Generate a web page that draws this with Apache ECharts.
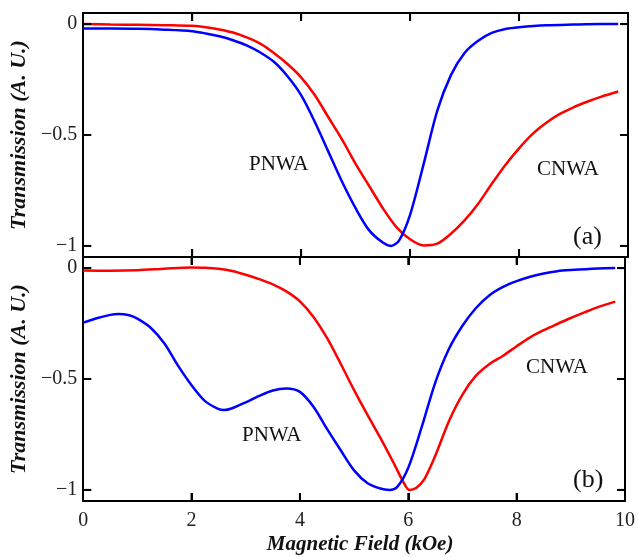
<!DOCTYPE html>
<html>
<head>
<meta charset="utf-8">
<script src="https://cdn.jsdelivr.net/npm/echarts@6/dist/echarts.min.js"></script>
<style>
  html, body { margin: 0; padding: 0; background: #fff; }
  #chart { width: 638px; height: 557px; }
</style>
</head>
<body>
<div id="chart"></div>
<script>
// panel (a)
const pnwaA = [[0,-0.02],[0.5,-0.02],[1,-0.021],[1.5,-0.025],[2,-0.032],[2.25,-0.042],[2.5,-0.055],[2.75,-0.073],[3,-0.096],[3.25,-0.128],[3.5,-0.17],[3.75,-0.235],[4,-0.32],[4.25,-0.44],[4.5,-0.575],[4.75,-0.71],[5,-0.83],[5.25,-0.93],[5.5,-0.985],[5.65,-1.0],[5.8,-0.975],[6,-0.86],[6.25,-0.63],[6.5,-0.39],[6.75,-0.23],[7,-0.13],[7.25,-0.075],[7.5,-0.04],[7.75,-0.022],[8,-0.014],[8.5,-0.005],[9,-0.002],[9.5,0],[9.82,0]];
const cnwaA = [[0,0],[0.5,-0.002],[1,-0.003],[1.5,-0.005],[2,-0.008],[2.25,-0.014],[2.5,-0.024],[2.75,-0.038],[3,-0.06],[3.25,-0.088],[3.5,-0.13],[3.75,-0.18],[4,-0.24],[4.25,-0.32],[4.5,-0.42],[4.75,-0.52],[5,-0.63],[5.25,-0.73],[5.5,-0.83],[5.75,-0.915],[6,-0.97],[6.25,-0.998],[6.5,-0.99],[6.75,-0.945],[7,-0.885],[7.25,-0.81],[7.5,-0.72],[7.75,-0.635],[8,-0.56],[8.25,-0.495],[8.5,-0.445],[8.75,-0.405],[9,-0.375],[9.25,-0.35],[9.5,-0.328],[9.82,-0.304]];
// panel (b)
const pnwaB = [[0,-0.246],[0.25,-0.226],[0.5,-0.211],[0.65,-0.207],[0.85,-0.213],[1,-0.228],[1.25,-0.27],[1.5,-0.34],[1.75,-0.44],[2,-0.528],[2.25,-0.6],[2.5,-0.636],[2.6,-0.64],[2.75,-0.632],[3,-0.605],[3.25,-0.576],[3.5,-0.552],[3.75,-0.543],[4,-0.558],[4.25,-0.625],[4.5,-0.725],[4.75,-0.82],[5,-0.912],[5.25,-0.97],[5.5,-0.995],[5.65,-1.0],[5.8,-0.985],[6,-0.9],[6.25,-0.715],[6.5,-0.515],[6.75,-0.365],[7,-0.26],[7.25,-0.18],[7.5,-0.122],[7.75,-0.085],[8,-0.059],[8.25,-0.039],[8.5,-0.024],[8.75,-0.014],[9,-0.009],[9.5,-0.002],[9.82,0]];
const cnwaB = [[0,-0.011],[0.5,-0.012],[1,-0.01],[1.5,-0.003],[2,0.003],[2.25,0.002],[2.5,-0.003],[2.75,-0.013],[3,-0.03],[3.25,-0.05],[3.5,-0.073],[3.75,-0.105],[4,-0.15],[4.25,-0.22],[4.5,-0.315],[4.75,-0.43],[5,-0.55],[5.25,-0.663],[5.5,-0.772],[5.75,-0.888],[5.9,-0.96],[6.02,-1.0],[6.15,-0.99],[6.3,-0.95],[6.5,-0.845],[6.75,-0.69],[7,-0.57],[7.25,-0.485],[7.5,-0.432],[7.75,-0.395],[8,-0.352],[8.25,-0.312],[8.5,-0.28],[8.75,-0.252],[9,-0.225],[9.25,-0.2],[9.5,-0.176],[9.82,-0.151]];

const xTicks = [2, 4, 6, 8];
const yTicks = [-1, -0.5, 0];
const xMin = 0, xMax = 10, yMin = -1.05, yMax = 0.05;
const serif = 'Liberation Serif';

const chart = echarts.init(document.getElementById('chart'));

const tickOpt = { show: true, inside: true, length: 8, lineStyle: { color: '#000', width: 2 } };

const xAx = (gridIndex, position, labels) => ({
  type: 'value', gridIndex, position, min: xMin, max: xMax, interval: 2,
  name: labels ? 'Magnetic Field (kOe)' : '',
  nameLocation: 'middle', nameGap: 33,
  nameTextStyle: { fontFamily: serif, fontSize: 21, fontWeight: 'bold', fontStyle: 'italic', color: '#111', padding: [0, 0, 0, 12] },
  axisLine: { show: true, onZero: false, lineStyle: { color: '#000', width: 2 } },
  axisTick: tickOpt,
  axisLabel: { show: labels, fontFamily: serif, fontSize: 20, color: '#222', margin: 10 },
  splitLine: { show: false }
});

const yAx = (gridIndex, position) => ({
  type: 'value', gridIndex, position, min: yMin, max: yMax,
  name: position === 'left' ? 'Transmission (A. U.)' : '',
  nameLocation: 'middle', nameGap: 46,
  nameTextStyle: { fontFamily: serif, fontSize: 22, fontWeight: 'bold', fontStyle: 'italic', color: '#111' },
  axisLine: { show: true, onZero: false, lineStyle: { color: '#000', width: 2 } },
  axisTick: Object.assign({ customValues: yTicks }, tickOpt),
  axisLabel: {
    show: position === 'left', customValues: yTicks, fontFamily: serif, fontSize: 20, color: '#222', margin: 6,
    formatter: (v) => (v < 0 ? '\u2212' + String(-v) : String(v))
  },
  splitLine: { show: false }
});

const line = (data, color, ax) => ({
  type: 'line', data, xAxisIndex: ax, yAxisIndex: ax,
  smooth: 0.3, showSymbol: false, silent: true,
  lineStyle: { color, width: 2.5 }
});

const txt = (text, x, y, size) => ({
  type: 'text', left: x, top: y,
  style: { text, fontFamily: serif, fontSize: size, fill: '#111' }
});

const labels = [
  txt('PNWA', 249, 154, 21),
  txt('CNWA', 537, 159, 21),
  txt('(a)', 573, 224, 26),
  txt('PNWA', 242, 425, 21),
  txt('CNWA', 526, 357, 21),
  txt('(b)', 573, 467, 26)
];

chart.setOption({
  animation: false,
  backgroundColor: '#fff',
  grid: [
    { left: 83, right: 10, top: 13, height: 244 },
    { left: 83, right: 10, top: 257, height: 244 }
  ],
  xAxis: [xAx(0, 'bottom', false), xAx(0, 'top', false), xAx(1, 'bottom', true), xAx(1, 'top', false)],
  yAxis: [yAx(0, 'left'), yAx(0, 'right'), yAx(1, 'left'), yAx(1, 'right')],
  series: [
    line(cnwaA, '#ff0000', 0),
    line(pnwaA, '#0000ff', 0),
    line(cnwaB, '#ff0000', 2),
    line(pnwaB, '#0000ff', 2)
  ],
  graphic: labels
});

// extra inward tick marks, placed with each panel's own scales
const tick = (x1, y1, x2, y2) => ({
  type: 'line', z: 100, silent: true,
  shape: { x1, y1, x2, y2 },
  style: { stroke: '#000', lineWidth: 2 }
});
const tickMarks = [];
[0, 2].forEach((ax) => {
  const px = (v) => chart.convertToPixel({ xAxisIndex: ax }, v);
  const py = (v) => chart.convertToPixel({ yAxisIndex: ax }, v);
  const left = px(xMin), right = px(xMax), top = py(yMax), bottom = py(yMin);
  xTicks.forEach((v) => {
    tickMarks.push(tick(px(v), bottom, px(v), bottom - 8));
    tickMarks.push(tick(px(v), top, px(v), top + 8));
  });
  yTicks.forEach((v) => {
    tickMarks.push(tick(left, py(v), left + 8, py(v)));
    tickMarks.push(tick(right, py(v), right - 8, py(v)));
  });
});
chart.setOption({ graphic: labels.concat(tickMarks) });
</script>
</body>
</html>
